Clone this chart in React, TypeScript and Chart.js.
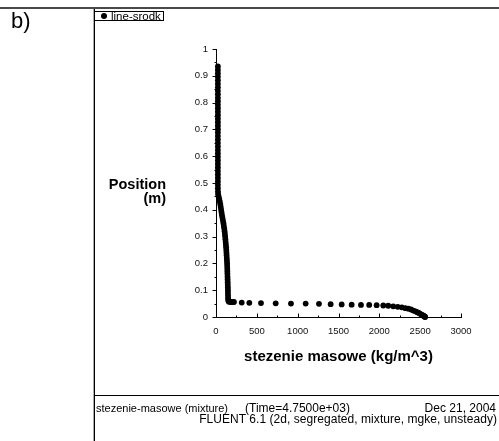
import React, { useEffect, useRef } from "react";
import { Chart, registerables } from "chart.js";

Chart.register(...registerables);

// ---- texts ----
const panelLabel = "b)";
const seriesLabel = "line-srodk";
const xTitle = "stezenie masowe (kg/m^3)";
const yTitleLines = ["Position", "(m)"];
const footerVariable = "stezenie-masowe (mixture)";
const footerTime = "(Time=4.7500e+03)";
const footerDate = "Dec 21, 2004";
const footerSolver = "FLUENT 6.1 (2d, segregated, mixture, mgke, unsteady)";

// ---- axes ----
const xMin = 0;
const xMax = 3000;
const xStep = 500;
const xMinorStep = 250;
const yMin = 0;
const yMax = 1;
const yStep = 0.1;
const yMinorStep = 0.05;

// ---- series: concentration (kg/m^3) vs position (m) ----
const concentration = [
  // upper column
  23, 23, 23, 23, 23, 23, 23, 23, 23, 23, 23, 23, 23, 23, 23, 23, 23, 23, 23,
  23, 23, 23, 23, 23, 23, 23, 23, 23, 23, 23, 23, 23, 23, 23, 23, 23, 24, 26,
  // transition
  32, 40, 47, 53, 58, 63, 68, 73, 79, 85, 91, 96, 101, 105, 109, 112, 115, 118,
  121, 124, 126, 128, 130, 132, 134, 136, 137, 138, 139, 140, 141, 142, 143,
  144, 145, 146, 146, 147, 148, 150, 158, 175, 195,
  // bottom layer
  220, 315, 408, 551, 731, 918, 1098, 1261, 1404, 1539, 1661, 1775, 1876, 1967,
  2048, 2109, 2170, 2225, 2275, 2318, 2355, 2388, 2417, 2442, 2464, 2484, 2501,
  2516, 2529, 2540, 2549, 2556, 2561,
];

const position = [
  0.935, 0.922, 0.909, 0.896, 0.883, 0.87, 0.857, 0.844, 0.831, 0.818, 0.805,
  0.792, 0.779, 0.766, 0.753, 0.74, 0.727, 0.714, 0.701, 0.688, 0.675, 0.662,
  0.649, 0.636, 0.623, 0.61, 0.597, 0.584, 0.571, 0.558, 0.545, 0.532, 0.519,
  0.506, 0.493, 0.48, 0.468, 0.458,
  0.45, 0.44, 0.43, 0.42, 0.41, 0.4, 0.39, 0.38, 0.37, 0.36, 0.35, 0.34, 0.33,
  0.32, 0.31, 0.3, 0.29, 0.28, 0.27, 0.26, 0.25, 0.24, 0.23, 0.22, 0.21, 0.2,
  0.19, 0.18, 0.17, 0.16, 0.15, 0.14, 0.13, 0.12, 0.11, 0.1, 0.09, 0.08, 0.07,
  0.062, 0.057, 0.056, 0.056,
  0.056, 0.054, 0.053, 0.052, 0.051, 0.05, 0.05, 0.049, 0.048, 0.047, 0.046,
  0.045, 0.045, 0.044, 0.043, 0.042, 0.04, 0.038, 0.036, 0.033, 0.031, 0.028,
  0.024, 0.021, 0.018, 0.015, 0.012, 0.009, 0.007, 0.005, 0.003, 0.001, 0,
];

const FONT = "'Liberation Sans', Arial, Helvetica, sans-serif";
const W = 499;
const H = 441;

const axisPlugin = {
  id: "fluentAxes",
  afterDraw(chart: any) {
    const { ctx, chartArea } = chart;
    const xs = chart.scales.x;
    const ys = chart.scales.y;
    const left = Math.round(chartArea.left) + 0.5;
    const bottom = Math.round(chartArea.bottom) + 0.5;
    ctx.save();
    ctx.strokeStyle = "#000";
    ctx.lineWidth = 1;
    ctx.beginPath();
    ctx.moveTo(left, Math.round(ys.getPixelForValue(yMax)));
    ctx.lineTo(left, bottom);
    ctx.lineTo(Math.round(xs.getPixelForValue(xMax)) + 1, bottom);
    // y ticks (outward, left)
    const nY = Math.round((yMax - yMin) / yMinorStep);
    for (let i = 0; i <= nY; i++) {
      const v = yMin + i * yMinorStep;
      const major = i % Math.round(yStep / yMinorStep) === 0;
      const py = Math.round(ys.getPixelForValue(v)) + 0.5;
      ctx.moveTo(left - (major ? 4 : 2), py);
      ctx.lineTo(left, py);
    }
    // x ticks (inward, up)
    const nX = Math.round((xMax - xMin) / xMinorStep);
    for (let i = 0; i <= nX; i++) {
      const v = xMin + i * xMinorStep;
      const major = i % Math.round(xStep / xMinorStep) === 0;
      const px = Math.round(xs.getPixelForValue(v)) + 0.5;
      ctx.moveTo(px, bottom);
      ctx.lineTo(px, bottom - (major ? 4 : 2));
    }
    ctx.stroke();
    ctx.restore();
  },
};

function Chartbox() {
  const ref = useRef<HTMLCanvasElement | null>(null);
  useEffect(() => {
    if (!ref.current) return;
    const data = concentration.map((x, i) => ({ x, y: position[i] }));
    const chart = new Chart(ref.current, {
      type: "scatter",
      data: {
        datasets: [
          {
            label: seriesLabel,
            data,
            backgroundColor: "#000",
            borderColor: "#000",
            borderWidth: 0,
            pointRadius: 2.9,
            pointHoverRadius: 2.9,
            showLine: false,
            clip: false as any,
          },
        ],
      },
      options: {
        animation: false,
        responsive: false,
        devicePixelRatio: 1,
        events: [],
        layout: { padding: { top: 49, right: 38, left: 0, bottom: 0 } },
        plugins: {
          legend: { display: false },
          tooltip: { enabled: false },
          title: { display: false },
        },
        scales: {
          x: {
            type: "linear",
            min: xMin,
            max: xMax,
            grid: { display: false, drawTicks: false },
            border: { display: false },
            ticks: {
              stepSize: xStep,
              padding: 9,
              color: "#111",
              font: { family: FONT, size: 9.5 },
              maxRotation: 0,
              callback: (v: any) => String(v),
            },
            afterFit: (s: any) => {
              s.height = H - 317;
            },
          },
          y: {
            type: "linear",
            min: yMin,
            max: yMax,
            grid: { display: false, drawTicks: false },
            border: { display: false },
            ticks: {
              stepSize: yStep,
              padding: 8,
              color: "#111",
              font: { family: FONT, size: 9.5 },
              callback: (v: any) => String(+Number(v).toFixed(1)),
            },
            afterFit: (s: any) => {
              s.width = 216;
            },
          },
        },
      },
      plugins: [axisPlugin],
    });
    return () => chart.destroy();
  }, []);
  return (
    <canvas
      ref={ref}
      width={W}
      height={H}
      style={{ position: "absolute", left: 0, top: 0, width: W, height: H }}
    />
  );
}

const abs = (s: React.CSSProperties): React.CSSProperties => ({
  position: "absolute",
  whiteSpace: "nowrap",
  ...s,
});

// top position for a text whose baseline should sit at `baseline`
const topFor = (baseline: number, size: number) => baseline - 0.8465 * size;

export default function App() {
  return (
    <div
      style={{
        position: "absolute",
        left: 0,
        top: 0,
        width: W,
        height: H,
        background: "#fff",
        fontFamily: FONT,
        color: "#000",
        overflow: "hidden",
      }}
    >
      <Chartbox />
      {/* frame */}
      <div style={abs({ left: 0, top: 7, width: W, height: 2, background: "#4a4a4a" })} />
      <div style={abs({ left: 93, top: 9, width: 1, height: H - 9, background: "#aaa" })} />
      <div style={abs({ left: 94, top: 9, width: 1, height: H - 9, background: "#000" })} />
      <div style={abs({ left: 95, top: 395, width: W - 95, height: 1, background: "#000" })} />

      {/* panel label */}
      <div style={abs({ left: 11, top: topFor(29, 22), fontSize: 22, lineHeight: "22px" })}>
        {panelLabel}
      </div>

      {/* legend */}
      <div
        style={abs({
          left: 94,
          top: 11,
          width: 70,
          height: 10,
          boxSizing: "border-box",
          border: "1px solid #000",
          overflow: "hidden",
          background: "#fff",
        })}
      >
        <div
          style={abs({
            left: 6,
            top: 1,
            width: 6,
            height: 6,
            borderRadius: "50%",
            background: "#000",
          })}
        />
        <div
          style={abs({
            left: 16,
            top: topFor(21.2, 11.5) - 12,
            fontSize: 11.5,
            lineHeight: "11.5px",
          })}
        >
          {seriesLabel}
        </div>
      </div>

      {/* y title */}
      <div
        style={abs({
          right: W - 166,
          top: topFor(189.5, 14.5),
          fontSize: 14.5,
          lineHeight: "14.5px",
          fontWeight: "bold",
          textAlign: "right",
        })}
      >
        {yTitleLines[0]}
      </div>
      <div
        style={abs({
          right: W - 166,
          top: topFor(203.3, 14.5),
          fontSize: 14.5,
          lineHeight: "14.5px",
          fontWeight: "bold",
          textAlign: "right",
        })}
      >
        {yTitleLines[1]}
      </div>

      {/* x title */}
      <div
        style={abs({
          left: 216,
          width: 245,
          top: topFor(361, 15),
          fontSize: 15,
          lineHeight: "15px",
          fontWeight: "bold",
          textAlign: "center",
        })}
      >
        {xTitle}
      </div>

      {/* footer */}
      <div style={abs({ left: 96, top: topFor(412, 11), fontSize: 11, lineHeight: "11px" })}>
        {footerVariable}
      </div>
      <div style={abs({ left: 245, top: topFor(412, 12), fontSize: 12, lineHeight: "12px" })}>
        {footerTime}
      </div>
      <div style={abs({ right: 3, top: topFor(412, 12), fontSize: 12, lineHeight: "12px" })}>
        {footerDate}
      </div>
      <div style={abs({ right: 2, top: topFor(423, 12), fontSize: 12, lineHeight: "12px", letterSpacing: 0.05 })}>
        {footerSolver}
      </div>
    </div>
  );
}
